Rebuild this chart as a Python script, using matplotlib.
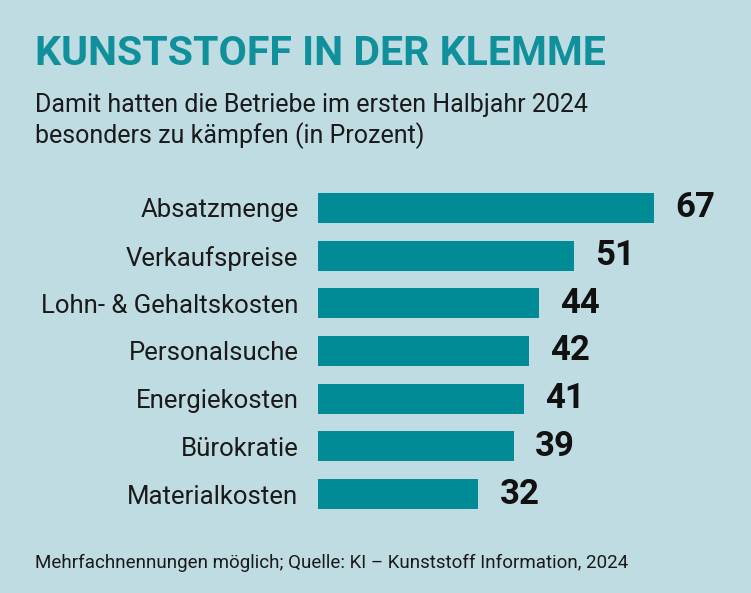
import matplotlib
matplotlib.use("Agg")
import matplotlib.pyplot as plt

plt.rcParams['font.family'] = ['Roboto', 'DejaVu Sans']

categories = ["Absatzmenge", "Verkaufspreise", "Lohn- & Gehaltskosten",
              "Personalsuche", "Energiekosten", "Bürokratie", "Materialkosten"]
values = [67, 51, 44, 42, 41, 39, 32]

title = "KUNSTSTOFF IN DER KLEMME"
subtitle = "Damit hatten die Betriebe im ersten Halbjahr 2024\nbesonders zu kämpfen (in Prozent)"
footer = "Mehrfachnennungen möglich; Quelle: KI – Kunststoff Information, 2024"

bg = "#c0dce3"
bar_color = "#008b96"
teal = "#10909a"

W, H = 751, 593
fig = plt.figure(figsize=(W / 100, H / 100), dpi=100, facecolor=bg)

# axes placed in pixels: left edge = value 0 at x=318
left, right, top, bottom = 318, 740, 184, 518
ax = fig.add_axes([left / W, 1 - bottom / H, (right - left) / W, (bottom - top) / H])
ax.set_facecolor(bg)
ax.set_xlim(0, (right - left) / 5.015)
ax.set_ylim(len(values) - 0.5, -0.5)

pos = list(range(len(values)))
ax.barh(pos, values, height=0.63, color=bar_color)
for p, v in zip(pos, values):
    ax.text(v + 4.3, p, str(v), va="center", ha="left", fontsize=25,
            fontweight="bold", color="#111111")

ax.set_yticks(pos)
ax.set_yticklabels(categories, fontsize=18.5, color="#1a1a1a")
ax.tick_params(axis="y", length=0, pad=14)
ax.set_xticks([])
for s in ax.spines.values():
    s.set_visible(False)

fig.text(35 / W, 1 - 54 / H, title, fontsize=29.5, fontweight="semibold",
         color=teal, va="center", ha="left")
fig.text(35 / W, 1 - 121 / H, subtitle, fontsize=18, color="#1a1a1a",
         va="center", ha="left", linespacing=1.2)
fig.text(35 / W, 1 - 563 / H, footer, fontsize=13.5, color="#1a1a1a",
         va="center", ha="left")

fig.savefig("out.png", dpi=100, facecolor=bg)
